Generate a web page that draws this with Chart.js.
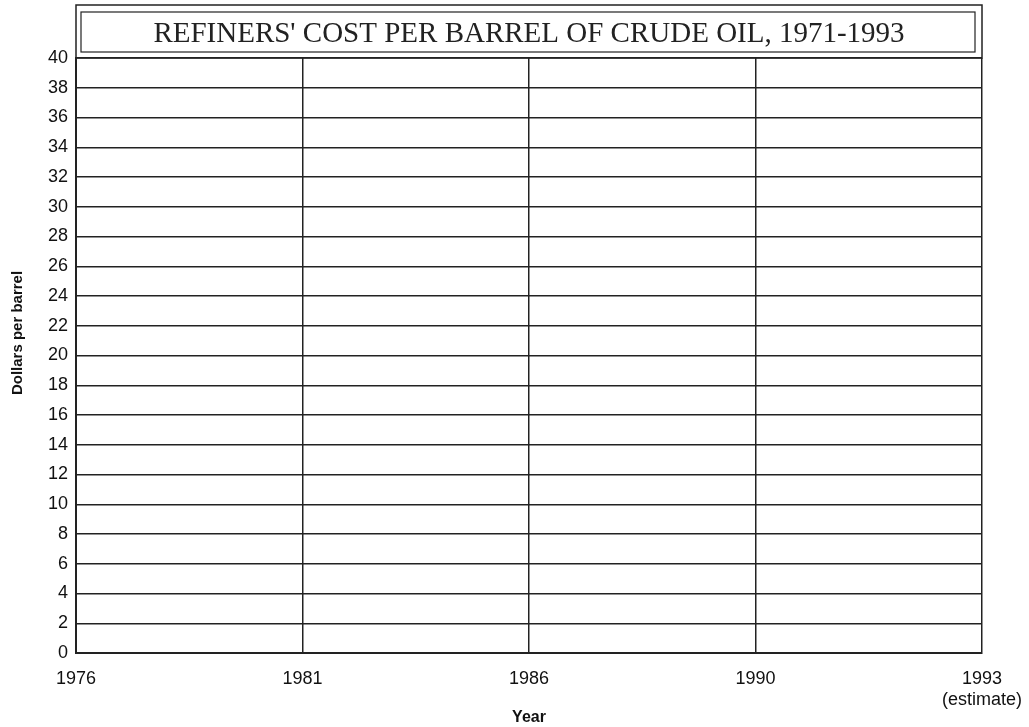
<!DOCTYPE html>
<html>
<head>
<meta charset="utf-8">
<script src="https://cdn.jsdelivr.net/npm/chart.js@4/dist/chart.umd.min.js"></script>
<style>
  html, body { margin: 0; padding: 0; background: #fff; }
  #wrap { width: 1029px; height: 727px; }
</style>
</head>
<body>
<div id="wrap"><canvas id="chart"></canvas></div>
<script>
// Chart data (the reference grid has no plotted series)
const years = ['1976', '1981', '1986', '1990', ['1993', '(estimate)']];
const costPerBarrel = [];
const yMin = 0, yMax = 40, yStep = 2;

const titleText = "REFINERS' COST PER BARREL OF CRUDE OIL, 1971-1993";
const yTitle = 'Dollars per barrel';
const sans = "'Liberation Sans', Arial, sans-serif";

// Draws the double-framed title box and the y axis caption
const titleBox = {
  id: 'titleBox',
  afterDraw(chart) {
    const ctx = chart.ctx;
    const a = chart.chartArea;
    ctx.save();
    ctx.strokeStyle = '#222';
    ctx.lineWidth = 1.5;
    ctx.strokeRect(a.left, 5, a.right - a.left, a.top - 5);
    ctx.lineWidth = 1.2;
    ctx.strokeRect(a.left + 5, 12, a.right - a.left - 12, 40);
    ctx.fillStyle = '#222';
    ctx.font = "29px 'Liberation Serif'";
    ctx.textAlign = 'center';
    ctx.textBaseline = 'middle';
    ctx.fillText(titleText, (a.left + a.right) / 2, 34);

    // y caption, rotated
    ctx.translate(18, 333);
    ctx.rotate(-Math.PI / 2);
    ctx.fillStyle = '#111';
    ctx.font = 'bold 15px ' + sans;
    ctx.fillText(yTitle, 0, 0);
    ctx.restore();
  }
};

new Chart(document.getElementById('chart'), {
  type: 'line',
  data: {
    labels: years,
    datasets: [{ data: costPerBarrel, borderColor: '#000' }]
  },
  options: {
    responsive: true,
    maintainAspectRatio: false,
    animation: false,
    layout: { padding: { top: 58, right: 47, left: 0, bottom: 0 } },
    plugins: { legend: { display: false }, tooltip: { enabled: false } },
    scales: {
      x: {
        type: 'category',
        offset: false,
        grid: { color: '#222', lineWidth: 1.5, drawTicks: false },
        border: { color: '#222', width: 2 },
        ticks: {
          color: '#111', padding: 15, maxRotation: 0, autoSkip: false,
          font: { family: sans, size: 18, lineHeight: 1.2 }
        },
        title: {
          display: true, text: 'Year', color: '#111', padding: { top: 2, bottom: 0 },
          font: { family: sans, size: 16, weight: 'bold' }
        },
        afterFit(scale) {
          scale.height = 74;
          scale.paddingLeft = 0;
          scale.paddingRight = 0;
        }
      },
      y: {
        min: yMin, max: yMax,
        grid: { color: '#222', lineWidth: 1.5, drawTicks: false },
        border: { color: '#222', width: 2 },
        ticks: {
          stepSize: yStep, color: '#111', padding: 8,
          font: { family: sans, size: 18 }
        },
        afterFit(scale) { scale.width = 76; }
      }
    }
  },
  plugins: [titleBox]
});
</script>
</body>
</html>
